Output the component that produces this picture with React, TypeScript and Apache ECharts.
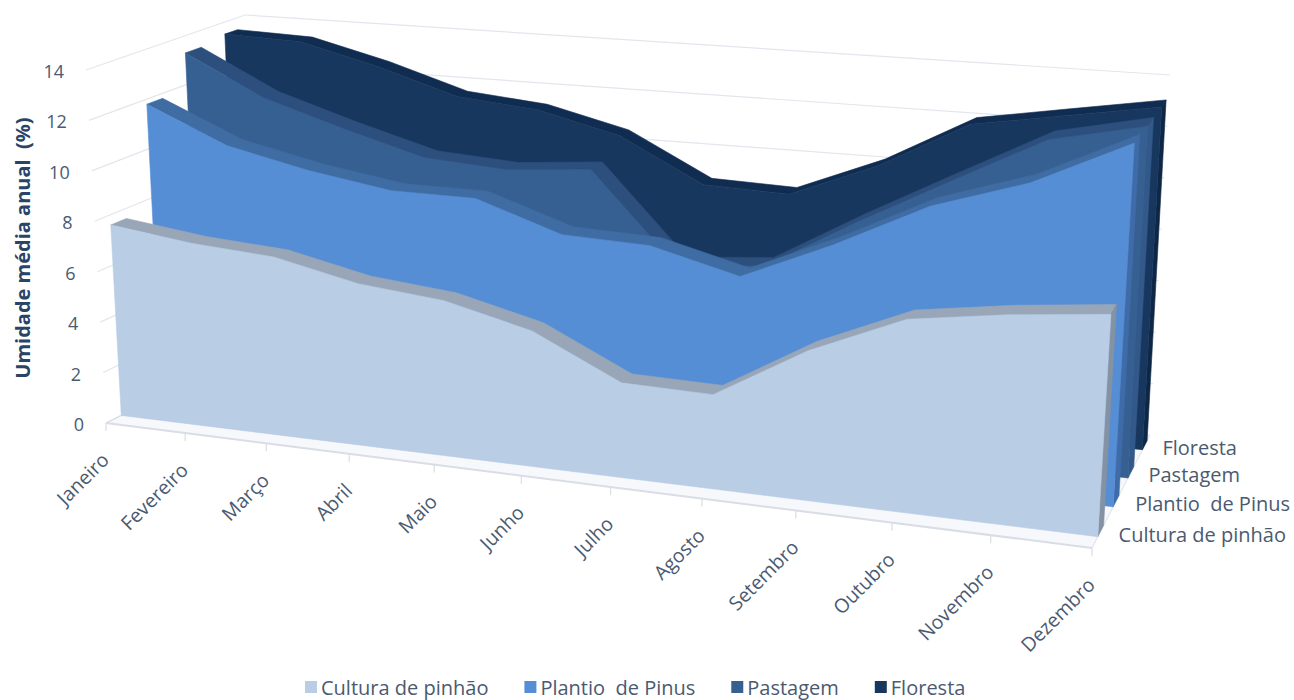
import React, { useEffect, useRef } from "react";
import * as echarts from "echarts";

const months = ["Janeiro","Fevereiro","Março","Abril","Maio","Junho","Julho","Agosto","Setembro","Outubro","Novembro","Dezembro"];
const yTicks = [0,2,4,6,8,10,12,14];
const cultura = [7.6,7.2,7.0,6.3,6.0,5.2,3.6,3.55,5.6,7.15,7.7,8.1];
const plantio = [11.8,10.4,9.7,9.2,9.2,8.1,8.0,7.15,8.7,10.5,11.7,13.5];
const pastagem = [13.3,11.7,10.7,9.8,9.6,9.9,6.4,6.7,8.7,10.6,12.5,13.3];
const floresta = [13.5,13.4,12.6,11.6,11.3,10.5,8.8,8.7,10.1,12.0,12.6,13.2];
const names = ["Cultura de pinhão","Plantio  de Pinus","Pastagem","Floresta"];

const W = 1294, H = 700;
const FONT = "'Open Sans', sans-serif";
const TXT = "#4a5a70";
const GRIDC = "#e2e6ed";

const lerp = (a:number,b:number,t:number)=>a+(b-a)*t;
const C = {
  LBF:[106,423], RBF:[1092,548], LTF:[86,70], RTF:[1115,161],
  LBB:[259,347], RBB:[1150,435], LTB:[245,15], RTB:[1170,75],
};
function project(u:number,v:number,w:number):[number,number]{
  const p = u/(u+(1-u)*1.145);
  const out:[number,number]=[0,0];
  for(let k=0;k<2;k++){
    const bf=lerp(C.LBF[k],C.RBF[k],p), tf=lerp(C.LTF[k],C.RTF[k],p);
    const bb=lerp(C.LBB[k],C.RBB[k],p), tb=lerp(C.LTB[k],C.RTB[k],p);
    out[k]=lerp(lerp(bf,tf,v),lerp(bb,tb,v),w);
  }
  return out;
}
function uv(api:any,m:number,val:number):[number,number]{
  const c=api.coord([m,val]);
  return [c[0]/W,(H-c[1])/H];
}
const poly=(points:number[][],fill:string)=>({type:"polygon",shape:{points},style:{fill,stroke:fill,lineWidth:0.6},silent:true});
const line=(a:number[],b:number[],stroke:string,lw=1.2)=>({type:"line",shape:{x1:a[0],y1:a[1],x2:b[0],y2:b[1]},style:{stroke,lineWidth:lw},silent:true});

function ribbon(values:number[],front:number,depth:number,face:string,strip:string,side:string){
  return (params:any,api:any)=>{
    if(params.dataIndex!==0) return null;
    const tops=values.map((val,i)=>uv(api,i,val));
    const base0=uv(api,0,0)[1];
    const F=tops.map(([u,v])=>project(u,v,front));
    const B=tops.map(([u,v])=>project(u,v,front+depth));
    const n=F.length-1;
    const fb0=project(0,base0,front), fbn=project(1,base0,front), bbn=project(1,base0,front+depth);
    return {type:"group",children:[
      poly([...F,...B.slice().reverse()],strip),
      poly([F[n],B[n],bbn,fbn],side),
      poly([fb0,...F,fbn],face),
    ]};
  };
}

function axesItem(params:any,api:any){
  if(params.dataIndex!==0) return null;
  const children:any[]=[];
  const base=uv(api,0,0)[1];
  children.push(poly([project(0,base,0),project(1,base,0),project(1,base,1),project(0,base,1)],"#f6f8fb"));
  yTicks.forEach(t=>{
    const [,v]=uv(api,0,t);
    children.push(line(project(0,v,0),project(0,v,1),GRIDC));
    children.push(line(project(0,v,1),project(1,v,1),GRIDC));
    const a=project(0,v,0);
    children.push({type:"text",x:a[0]-22,y:a[1]+1,silent:true,style:{text:String(t),align:"right",verticalAlign:"middle",fontSize:18,fontFamily:FONT,fill:TXT}});
  });
  children.push(line(project(0,base,0),project(1,base,0),"#d9dde6",2));
  children.push(line(project(0,base,0),project(0,base,0.12),"#d9dde6"));
  children.push(line(project(1,base,0),project(1,base,1),GRIDC));
  months.forEach((m,i)=>{
    const [u]=uv(api,i,0);
    const a=project(u,base,0);
    children.push(line(a,[a[0],a[1]+8],"#d9dde6"));
    children.push({type:"text",x:a[0]-1,y:a[1]+33,rotation:Math.PI/4,silent:true,style:{text:m,align:"right",verticalAlign:"middle",fontSize:19.5,fontFamily:FONT,fill:TXT}});
  });
  const depthLabels:[string,number,number][]=[["Cultura de pinhão",1286,534],["Plantio  de Pinus",1290,503],["Pastagem",1240,474],["Floresta",1237,447]];
  depthLabels.forEach(([s,x,y])=>{
    children.push({type:"text",x,y,silent:true,style:{text:s,align:"right",verticalAlign:"middle",fontSize:20,fontFamily:FONT,fill:TXT}});
  });
  children.push({type:"text",x:22,y:248,rotation:Math.PI/2,silent:true,style:{text:"Umidade média anual  (%)",align:"center",verticalAlign:"middle",fontSize:20,fontWeight:"bold",fontFamily:FONT,fill:"#2a4468"}});
  return {type:"group",children};
}

export default function App(){
  const ref=useRef<HTMLDivElement>(null);
  useEffect(()=>{
    const chart=echarts.init(ref.current!,undefined,{renderer:"svg"});
    const mk=(name:string,values:number[],z:number,color:string,render:any)=>({
      type:"custom",name,z,clip:false,silent:true,itemStyle:{color},
      data:values.map((v,i)=>[i,v]),renderItem:render,encode:{x:0,y:1},
    });
    chart.setOption({
      animation:false,
      backgroundColor:"#ffffff",
      tooltip:{show:false},
      grid:{left:0,right:0,top:0,bottom:0},
      xAxis:{type:"category",data:months,boundaryGap:false,show:false},
      yAxis:{type:"value",min:0,max:14,interval:2,show:false},
      legend:{
        data:names,left:300,top:672,itemWidth:12,itemHeight:12,itemGap:36,icon:"rect",
        selectedMode:false,textStyle:{fontFamily:FONT,fontSize:20,color:TXT,padding:[0,0,0,-1]},
      },
      series:[
        {type:"custom",name:"eixos",z:1,silent:true,data:[[0,0]],renderItem:axesItem,encode:{x:0,y:1}},
        mk(names[3],floresta,2,"#17375e",ribbon(floresta,0.87,0.08,"#17375e","#102c51","#0f2747")),
        mk(names[2],pastagem,3,"#376092",ribbon(pastagem,0.62,0.1,"#376092","#2c4f7e","#33598a")),
        mk(names[1],plantio,4,"#558ed5",ribbon(plantio,0.365,0.1,"#558ed5","#3f6ca3","#3f6ca8")),
        mk(names[0],cultura,5,"#b9cde5",ribbon(cultura,0.1,0.1,"#b9cde5","#98a6b8","#8492a3")),
      ],
    });
    return ()=>chart.dispose();
  },[]);
  return <div ref={ref} style={{position:"absolute",left:0,top:0,width:W,height:H}}/>;
}
